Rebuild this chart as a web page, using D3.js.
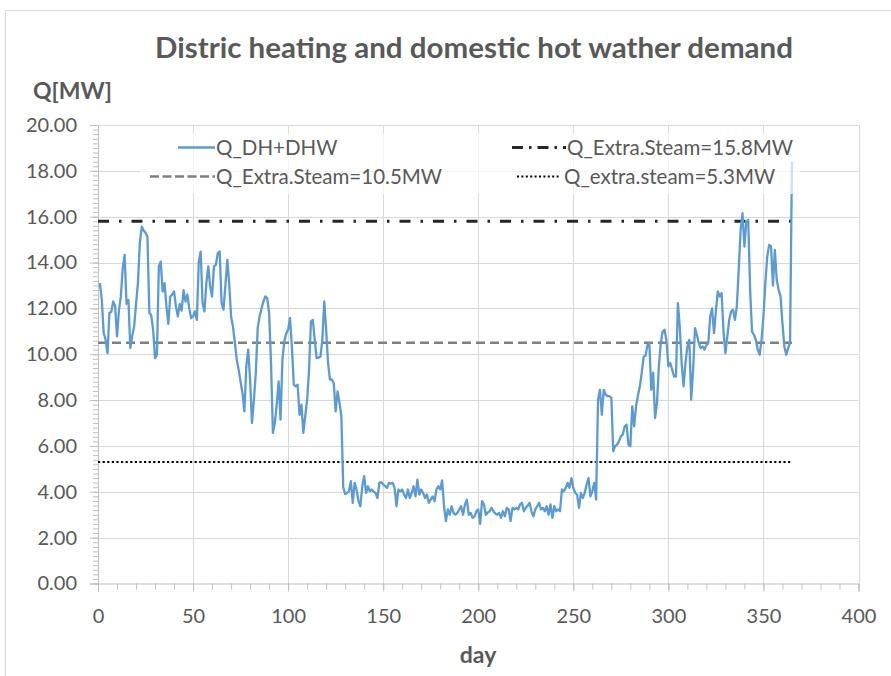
<!DOCTYPE html>
<html>
<head>
<meta charset="utf-8">
<script src="https://cdn.jsdelivr.net/npm/d3@7/dist/d3.min.js"></script>
<style>
  html, body { margin: 0; padding: 0; background: #ffffff; }
  svg { display: block; }
</style>
</head>
<body>
<svg id="chart" width="891" height="676"></svg>
<script>
// ---------------- DATA ----------------
const titleText = "Distric heating and domestic hot wather demand";
const yAxisTitle = "Q[MW]";
const xAxisTitle = "day";
const xTicks = [0, 50, 100, 150, 200, 250, 300, 350, 400];
const yTicks = [0, 2, 4, 6, 8, 10, 12, 14, 16, 18, 20];

// daily demand Q_DH+DHW [MW], day 1 .. 365
const demand = [
  13.1, 12.37, 10.92, 10.63, 10.05, 11.8, 11.85, 12.3, 12.1, 10.78,
  11.9, 12.5, 13.75, 14.33, 12.2, 12.37, 10.27, 10.8, 11.2, 12.2,
  13.1, 14.85, 15.57, 15.4, 15.3, 15.13, 11.8, 11.7, 11.07, 9.83,
  9.98, 13.83, 14.04, 12.74, 13.1, 12.08, 11.33, 12.52, 12.6, 12.74,
  12.08, 11.65, 12.2, 11.9, 12.8, 12.3, 12.6, 12.0, 11.58, 11.65,
  11.87, 11.5, 14.04, 14.48, 12.23, 11.87, 13.1, 13.83, 12.96, 12.52,
  13.83, 13.9, 14.41, 14.48, 12.23, 11.95, 13.0, 14.12, 13.1, 11.65,
  11.2, 10.5, 9.76, 9.32, 8.8, 8.3, 7.51, 9.47, 10.2, 8.9,
  7.0, 8.0, 9.18, 11.14, 11.65, 12.0, 12.3, 12.52, 12.45, 11.8,
  9.62, 6.57, 7.0, 7.8, 8.82, 7.15, 9.76, 10.56, 10.9, 11.07,
  11.58, 10.3, 8.67, 8.6, 8.67, 7.36, 7.8, 6.57, 7.3, 8.02,
  9.3, 11.43, 11.5, 10.63, 9.83, 9.85, 9.9, 10.63, 12.3, 11.07,
  9.62, 8.89, 8.9, 8.74, 7.51, 8.38, 7.9, 7.29, 4.2, 3.9,
  3.95, 4.02, 4.46, 3.52, 4.39, 4.1, 3.6, 3.37, 4.24, 4.68,
  3.95, 4.24, 4.02, 4.1, 4.0, 3.95, 3.73, 4.39, 4.42, 4.32,
  4.25, 4.17, 4.39, 4.35, 4.39, 4.17, 3.37, 4.1, 4.02, 4.1,
  3.88, 3.73, 4.1, 3.73, 3.95, 4.24, 3.8, 4.53, 3.88, 4.1,
  3.95, 3.73, 3.88, 3.52, 3.66, 3.8, 3.59, 4.1, 4.24, 4.1,
  4.5, 3.37, 2.72, 3.23, 3.0, 3.37, 3.08, 3.0, 3.08, 3.23,
  3.37, 3.0, 3.45, 3.66, 3.0, 3.08, 2.86, 2.93, 3.15, 3.23,
  2.6, 3.59, 3.45, 3.0, 3.1, 3.15, 3.3, 3.15, 3.05, 3.0,
  3.08, 2.86, 3.15, 2.93, 3.3, 3.23, 2.72, 3.3, 3.23, 3.3,
  3.23, 3.45, 3.52, 3.15, 3.3, 3.4, 3.52, 3.15, 2.93, 3.23,
  3.37, 3.52, 3.23, 3.3, 3.15, 3.37, 3.0, 3.45, 2.86, 3.37,
  3.15, 3.23, 3.15, 4.1, 4.02, 4.17, 4.39, 4.17, 4.6, 4.17,
  3.95, 3.88, 3.3, 3.95, 3.73, 3.95, 4.32, 4.6, 3.8, 4.02,
  4.39, 3.66, 8.02, 8.45, 7.36, 8.45, 8.24, 8.17, 8.17, 8.1,
  5.77, 5.99, 6.06, 6.2, 6.42, 6.5, 6.85, 6.93, 6.06, 5.99,
  7.73, 6.85, 7.73, 8.2, 8.6, 9.2, 9.9, 9.93, 10.4, 10.48,
  8.45, 9.2, 7.22, 7.87, 9.47, 10.48, 10.99, 11.07, 10.6, 9.47,
  9.62, 9.33, 9.03, 9.03, 12.23, 11.2, 9.6, 8.6, 9.62, 10.34,
  10.63, 8.02, 9.33, 11.14, 10.85, 10.48, 10.26, 10.34, 10.2, 10.4,
  10.48, 11.65, 12.0, 10.92, 11.9, 12.74, 12.52, 12.67, 11.0, 10.05,
  10.77, 11.5, 11.87, 11.94, 11.5, 12.09, 13.68, 15.43, 16.15, 14.7,
  15.79, 15.86, 12.81, 10.99, 10.85, 10.63, 10.2, 9.98, 10.63, 11.65,
  13.1, 14.26, 14.77, 14.7, 13.0, 14.55, 13.24, 12.81, 12.52, 11.36,
  10.34, 9.98, 10.27, 10.5, 18.4
];
const days = demand.map((v, i) => i + 1);

// constant extraction-steam reference levels
const steamLabels = ["Q_Extra.Steam=15.8MW", "Q_Extra.Steam=10.5MW", "Q_extra.steam=5.3MW"];
const steamValues = [15.8, 10.5, 5.3];
const steamRange = [0, 365];
const seriesLabel = "Q_DH+DHW";

// ---------------- CHART ----------------
const svg = d3.select("#chart");
const W = 891, H = 676;
const plot = { left: 98, right: 858.5, top: 125, bottom: 583.5 };
const textColor = "#595959";
const gridColor = "#d9d9d9";
const axisColor = "#bfbfbf";
const fontFam = "Lato, 'Open Sans', sans-serif";

// chart frame
svg.append("rect").attr("x", 5.5).attr("y", 10.5).attr("width", W).attr("height", H)
  .attr("fill", "#ffffff").attr("stroke", "#d9d9d9").attr("stroke-width", 1);

const x = d3.scaleLinear().domain([0, 400]).range([plot.left, plot.right]);
const y = d3.scaleLinear().domain([0, 20]).range([plot.bottom, plot.top]);

// gridlines
const grid = svg.append("g");
grid.selectAll("line.h").data(yTicks.filter(d => d > 0)).join("line")
  .attr("x1", plot.left).attr("x2", plot.right)
  .attr("y1", d => Math.round(y(d)) + 0.5).attr("y2", d => Math.round(y(d)) + 0.5)
  .attr("stroke", gridColor).attr("stroke-width", 1);
grid.selectAll("line.v").data(xTicks.filter(d => d > 0)).join("line")
  .attr("y1", plot.top).attr("y2", plot.bottom)
  .attr("x1", d => Math.round(x(d)) + 0.5).attr("x2", d => Math.round(x(d)) + 0.5)
  .attr("stroke", gridColor).attr("stroke-width", 1);

// minor ticks
const yMinor = d3.range(0, 100.5, 1).map(i => i * 0.2);
const xMinor = d3.range(0, 41, 1).map(i => i * 10);
const yMinorAxis = svg.append("g").attr("transform", `translate(${plot.left},0)`)
  .call(d3.axisLeft(y).tickValues(yMinor).tickSize(5).tickFormat(""));
const xMinorAxis = svg.append("g").attr("transform", `translate(0,${plot.bottom})`)
  .call(d3.axisBottom(x).tickValues(xMinor).tickSize(6).tickFormat(""));
[yMinorAxis, xMinorAxis].forEach(g => {
  g.select(".domain").remove();
  g.selectAll("line").attr("stroke", axisColor);
});

// major axes
const yAxis = svg.append("g").attr("transform", `translate(${plot.left},0)`)
  .call(d3.axisLeft(y).tickValues(yTicks).tickSize(8).tickPadding(13).tickFormat(d => d.toFixed(2)));
const xAxis = svg.append("g").attr("transform", `translate(0,${plot.bottom})`)
  .call(d3.axisBottom(x).tickValues(xTicks).tickSize(8).tickPadding(17).tickFormat(d3.format("d")));
[yAxis, xAxis].forEach(g => {
  g.select(".domain").attr("stroke", axisColor);
  g.selectAll("line").attr("stroke", axisColor);
  g.selectAll("text").attr("fill", textColor).attr("font-family", fontFam).attr("font-size", 20);
});

// steam reference lines
const steamStyles = [
  { color: "#262626", width: 3, dash: "11,10,2.5,10" },
  { color: "#7f7f7f", width: 2.5, dash: "9,5" },
  { color: "#000000", width: 2.2, dash: "2.2,2.4" }
];
svg.append("g").selectAll("line").data(steamValues).join("line")
  .attr("x1", x(steamRange[0])).attr("x2", x(steamRange[1]))
  .attr("y1", d => y(d)).attr("y2", d => y(d))
  .attr("stroke", (d, i) => steamStyles[i].color)
  .attr("stroke-width", (d, i) => steamStyles[i].width)
  .attr("stroke-dasharray", (d, i) => steamStyles[i].dash);

// demand series
const line = d3.line().x((d, i) => x(days[i])).y(d => y(d));
svg.append("path").datum(demand)
  .attr("d", line).attr("fill", "none")
  .attr("stroke", "#5b9bd5").attr("stroke-width", 2.3).attr("stroke-linejoin", "round");

// legend (semi-transparent white box inside plot)
const leg = svg.append("g");
leg.append("rect").attr("x", 140).attr("y", 133).attr("width", 660).attr("height", 61)
  .attr("fill", "#ffffff").attr("opacity", 0.7);
const legendItems = [
  { label: seriesLabel, color: "#5b9bd5", width: 2.3, dash: null, x1: 178, x2: 215, tx: 216, ty: 147.5 },
  { label: steamLabels[0], color: steamStyles[0].color, width: 3, dash: "11,6,2.5,6", x1: 512, x2: 566, tx: 567, ty: 147.5 },
  { label: steamLabels[1], color: steamStyles[1].color, width: 2.5, dash: "9,3.5", x1: 150, x2: 215, tx: 216, ty: 176.5 },
  { label: steamLabels[2], color: steamStyles[2].color, width: 2, dash: "2,2.4", x1: 517, x2: 560, tx: 564, ty: 176.5 }
];
legendItems.forEach(it => {
  leg.append("line").attr("x1", it.x1).attr("x2", it.x2).attr("y1", it.ty).attr("y2", it.ty)
    .attr("stroke", it.color).attr("stroke-width", it.width)
    .attr("stroke-dasharray", it.dash);
  leg.append("text").attr("x", it.tx).attr("y", it.ty).attr("dy", "0.35em")
    .attr("fill", textColor).attr("font-family", fontFam).attr("font-size", 20.5)
    .text(it.label);
});

// titles
svg.append("text").attr("x", 474).attr("y", 58).attr("text-anchor", "middle")
  .attr("fill", textColor).attr("font-family", fontFam).attr("font-weight", "bold")
  .attr("font-size", 29).attr("textLength", 638).attr("lengthAdjust", "spacingAndGlyphs")
  .text(titleText);
svg.append("text").attr("x", 33).attr("y", 99)
  .attr("fill", textColor).attr("font-family", fontFam).attr("font-weight", "bold")
  .attr("font-size", 23).text(yAxisTitle);
svg.append("text").attr("x", 478).attr("y", 663).attr("text-anchor", "middle")
  .attr("fill", textColor).attr("font-family", fontFam).attr("font-weight", "bold")
  .attr("font-size", 23).text(xAxisTitle);
</script>
</body>
</html>
